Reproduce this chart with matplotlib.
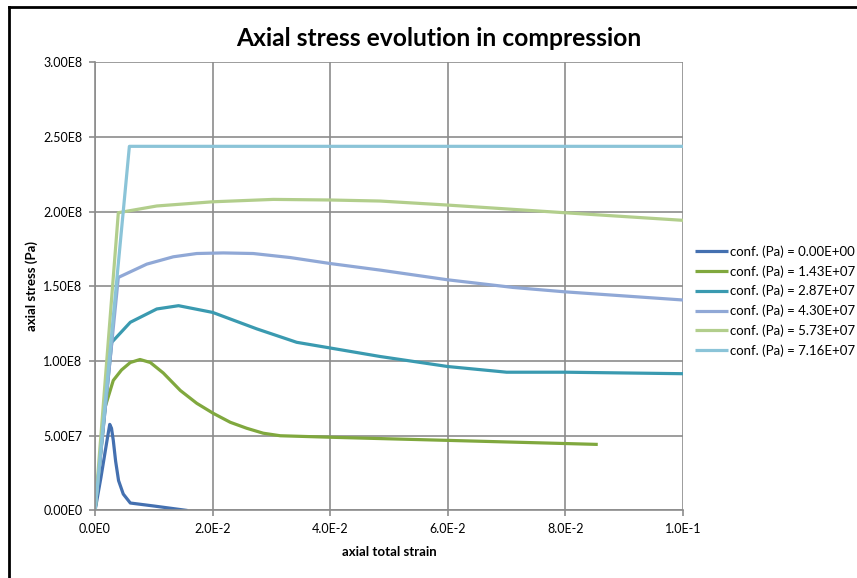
import numpy as np
import matplotlib
matplotlib.use('Agg')
import matplotlib.pyplot as plt
from matplotlib.lines import Line2D
from matplotlib.ticker import FixedLocator

plt.rcParams['font.family'] = ['Lato', 'DejaVu Sans']

labels = ['conf. (Pa) = 0.00E+00', 'conf. (Pa) = 1.43E+07', 'conf. (Pa) = 2.87E+07',
          'conf. (Pa) = 4.30E+07', 'conf. (Pa) = 5.73E+07', 'conf. (Pa) = 7.16E+07']
colors = ['#4470B0', '#80A83E', '#3A9AB0', '#90A8D6', '#B2CE8C', '#8BC4D8']

# strain / stress
strain0 = [0, 0.001, 0.002, 0.0025, 0.0028, 0.0031, 0.0035, 0.004, 0.0048, 0.006, 0.01, 0.0157]
stress0 = [0, 2.2e7, 4.6e7, 5.76e7, 5.5e7, 4.7e7, 3.3e7, 2.0e7, 1.1e7, 5e6, 3e6, 0]

strain1 = [0, 0.0017, 0.0031, 0.0045, 0.006, 0.00765, 0.0094, 0.0116, 0.0145, 0.0173, 0.0201,
           0.023, 0.0258, 0.0286, 0.0315, 0.04, 0.06, 0.0855]
stress1 = [0, 6.9e7, 8.7e7, 9.4e7, 9.9e7, 1.01e8, 9.9e7, 9.2e7, 8.03e7, 7.17e7, 6.5e7,
           5.9e7, 5.5e7, 5.17e7, 5.0e7, 4.9e7, 4.69e7, 4.42e7]

strain2 = [0, 0.00284, 0.006, 0.0105, 0.0142, 0.02, 0.0275, 0.0343, 0.04, 0.0485, 0.06, 0.07, 0.08, 0.1]
stress2 = [0, 1.125e8, 1.259e8, 1.348e8, 1.37e8, 1.325e8, 1.215e8, 1.125e8, 1.087e8, 1.03e8, 9.63e7, 9.25e7, 9.25e7, 9.15e7]

strain3 = [0, 0.00396, 0.0088, 0.0133, 0.0173, 0.0218, 0.0269, 0.0332, 0.04, 0.0485, 0.06, 0.0711, 0.0798, 0.1]
stress3 = [0, 1.559e8, 1.648e8, 1.697e8, 1.719e8, 1.723e8, 1.719e8, 1.692e8, 1.652e8, 1.608e8, 1.543e8, 1.492e8, 1.463e8, 1.408e8]

strain4 = [0, 0.00396, 0.0105, 0.02, 0.0303, 0.04, 0.0485, 0.06, 0.0798, 0.1]
stress4 = [0, 1.992e8, 2.037e8, 2.065e8, 2.081e8, 2.077e8, 2.07e8, 2.043e8, 1.992e8, 1.941e8]

strain5 = [0, 0.00584, 0.1]
stress5 = [0, 2.436e8, 2.436e8]

xticks = [0, 0.02, 0.04, 0.06, 0.08, 0.1]
xticklabels = ['0.0E0', '2.0E-2', '4.0E-2', '6.0E-2', '8.0E-2', '1.0E-1']
yticks = [0, 5e7, 1e8, 1.5e8, 2e8, 2.5e8, 3e8]
yticklabels = ['0.00E0', '5.00E7', '1.00E8', '1.50E8', '2.00E8', '2.50E8', '3.00E8']

fig = plt.figure(figsize=(8.57, 5.78), dpi=100)
ax = fig.add_axes([0.1109, 0.1168, 0.797 - 0.1109, 0.8927 - 0.1168])

all_x = [strain0, strain1, strain2, strain3, strain4, strain5]
all_y = [stress0, stress1, stress2, stress3, stress4, stress5]
for i in range(6):
    ax.plot(all_x[i], all_y[i], color=colors[i], lw=2.3, label=labels[i],
            solid_joinstyle='round', solid_capstyle='butt')

ax.set_xlim(0, 0.1)
ax.set_ylim(0, 3e8)
ax.xaxis.set_major_locator(FixedLocator(xticks))
ax.yaxis.set_major_locator(FixedLocator(yticks))
ax.set_xticklabels(xticklabels, fontsize=9)
ax.set_yticklabels(yticklabels, fontsize=9)
ax.grid(True, color='#8C8C8C', lw=1.2)
ax.set_axisbelow(True)
for s in ['top', 'right']:
    ax.spines[s].set_visible(False)
for s in ['left', 'bottom']:
    ax.spines[s].set_color('#8C8C8C')
    ax.spines[s].set_linewidth(1.2)
ax.tick_params(direction='out', length=4, width=1.2, color='#8C8C8C', pad=5)

ax.set_xlabel('axial total strain', fontsize=9.5, fontweight='bold', labelpad=8)
ax.set_ylabel('axial stress (Pa)', fontsize=9.5, fontweight='bold', labelpad=4)
fig.text(0.512, 0.933, 'Axial stress evolution in compression', fontsize=17.7,
         fontweight='bold', ha='center', va='center')

ax.legend(loc='center left', bbox_to_anchor=(1.02, 0.467), frameon=False, fontsize=9.5,
          handlelength=2.5, handletextpad=0.15, labelspacing=0.55, borderaxespad=0,
          borderpad=0)

# outer frame (left and top only)
fig.add_artist(Line2D([9 / 857, 9 / 857], [0, 1 - 7 / 578], color='black', lw=2))
fig.add_artist(Line2D([9 / 857, 1], [1 - 7 / 578, 1 - 7 / 578], color='black', lw=2))

fig.savefig('out.png', dpi=100)
